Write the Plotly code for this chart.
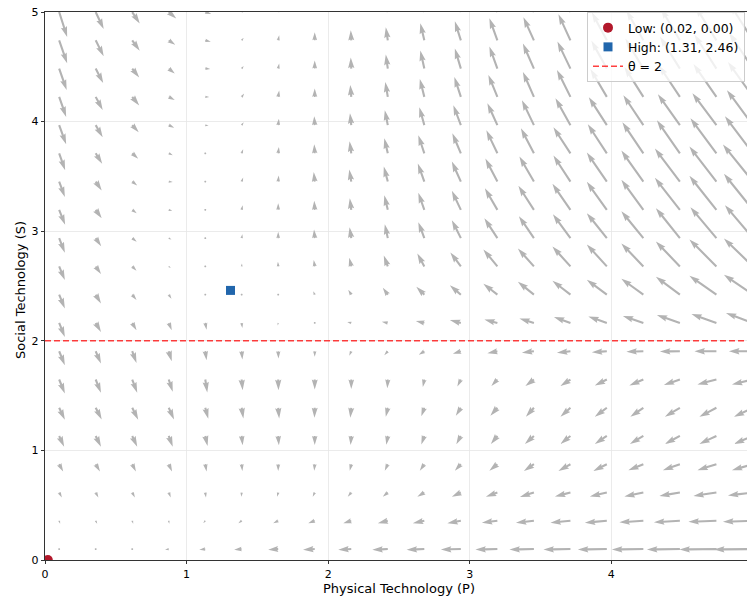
import math
import plotly.graph_objects as go

# ---------------- data ----------------
P_grid = [0.1, 0.358, 0.616, 0.874, 1.132, 1.389, 1.647, 1.905, 2.163, 2.421,
          2.679, 2.937, 3.195, 3.453, 3.711, 3.968, 4.226, 4.484, 4.742, 5.0]
S_grid = [0.1, 0.358, 0.616, 0.874, 1.132, 1.389, 1.647, 1.905, 2.163, 2.421,
          2.679, 2.937, 3.195, 3.453, 3.711, 3.968, 4.226, 4.484, 4.742, 5.0]

# dP/dt read from the field (rows follow S_grid, columns follow P_grid)
dP = [
    [0.05, 0.0, -0.1, -0.37, -0.6, -0.75, -1.0, -1.17, -1.3, -1.55, -1.77, -2.0, -2.2, -2.45, -2.7, -2.9, -3.15, -3.3, -3.7, -3.9],
    [0.1, 0.15, 0.1, 0.05, -0.2, -0.33, -0.5, -0.65, -0.8, -1.0, -1.15, -1.35, -1.55, -1.8, -2.0, -2.2, -2.4, -2.6, -2.8, -3.0],
    [0.27, 0.27, 0.27, 0.2, 0.07, -0.03, -0.1, -0.2, -0.35, -0.5, -0.7, -0.9, -1.15, -1.4, -1.55, -1.7, -1.9, -2.05, -2.3, -2.5],
    [0.4, 0.43, 0.37, 0.33, 0.13, 0.07, 0.0, -0.05, -0.15, -0.3, -0.45, -0.6, -0.8, -1.0, -1.2, -1.35, -1.5, -1.7, -1.9, -2.1],
    [0.5, 0.53, 0.5, 0.4, 0.23, 0.1, 0.07, 0.0, -0.07, -0.15, -0.3, -0.45, -0.65, -0.9, -1.0, -1.2, -1.35, -1.5, -1.7, -1.9],
    [0.57, 0.6, 0.6, 0.53, 0.3, 0.17, 0.1, -0.03, -0.1, -0.2, -0.3, -0.5, -0.7, -0.8, -1.0, -1.2, -1.3, -1.5, -1.7, -1.9],
    [0.57, 0.53, 0.5, 0.4, 0.2, 0.1, 0.03, 0.0, 0.0, -0.05, -0.15, -0.35, -0.6, -0.85, -1.0, -1.2, -1.4, -1.6, -1.9, -2.1],
    [0.57, 0.53, 0.43, 0.3, 0.13, 0.07, 0.03, 0.0, -0.2, -0.35, -0.55, -0.8, -1.0, -1.2, -1.35, -1.5, -1.7, -2.0, -2.2, -2.4],
    [0.57, 0.53, 0.43, 0.3, 0.13, 0.07, -0.05, -0.2, -0.4, -0.6, -0.85, -1.1, -1.3, -1.45, -1.65, -1.85, -2.05, -2.3, -2.5, -2.7],
    [0.57, 0.53, 0.43, 0.27, 0.03, 0.0, -0.05, -0.15, -0.3, -0.5, -0.8, -1.1, -1.4, -1.6, -1.8, -2.0, -2.2, -2.4, -2.7, -2.9],
    [0.57, 0.53, 0.43, 0.2, 0.05, 0.03, -0.03, -0.1, -0.2, -0.4, -0.7, -1.05, -1.4, -1.6, -1.8, -2.0, -2.2, -2.4, -2.7, -2.9],
    [0.57, 0.55, 0.45, 0.27, 0.07, 0.07, 0.0, -0.07, -0.17, -0.3, -0.6, -0.9, -1.3, -1.5, -1.75, -2.0, -2.2, -2.4, -2.6, -2.8],
    [0.6, 0.6, 0.45, 0.35, 0.15, 0.1, 0.0, -0.05, -0.15, -0.35, -0.6, -0.9, -1.25, -1.55, -1.8, -2.0, -2.2, -2.5, -2.7, -2.9],
    [0.57, 0.6, 0.5, 0.4, 0.17, 0.15, 0.05, -0.1, -0.2, -0.4, -0.65, -0.9, -1.2, -1.45, -1.7, -2.0, -2.2, -2.5, -2.7, -3.0],
    [0.6, 0.65, 0.6, 0.4, 0.2, 0.15, 0.07, -0.05, -0.17, -0.35, -0.6, -0.85, -1.1, -1.3, -1.7, -1.9, -2.1, -2.3, -2.6, -2.8],
    [0.7, 0.7, 0.65, 0.55, 0.33, 0.2, 0.07, -0.05, -0.13, -0.3, -0.5, -0.75, -1.0, -1.2, -1.5, -1.8, -2.0, -2.2, -2.4, -2.6],
    [0.7, 0.7, 0.7, 0.6, 0.4, 0.25, 0.1, 0.0, -0.1, -0.25, -0.45, -0.65, -0.9, -1.1, -1.35, -1.65, -1.9, -2.1, -2.3, -2.5],
    [0.75, 0.75, 0.7, 0.6, 0.5, 0.2, 0.1, 0.0, -0.05, -0.2, -0.4, -0.6, -0.8, -1.1, -1.3, -1.55, -1.8, -2.0, -2.2, -2.4],
    [0.8, 0.8, 0.75, 0.65, 0.55, 0.2, 0.1, 0.0, -0.05, -0.2, -0.4, -0.6, -0.8, -1.05, -1.2, -1.5, -1.7, -1.9, -2.1, -2.3],
    [0.8, 0.8, 0.75, 0.75, 0.6, 0.25, 0.1, 0.0, -0.05, -0.2, -0.4, -0.6, -0.8, -1.0, -1.2, -1.4, -1.7, -1.9, -2.1, -2.3],
]

# dS/dt read from the field
dS = [
    [-0.08, -0.08, -0.08, -0.08, -0.08, -0.08, -0.08, -0.08, -0.08, -0.08, -0.08, -0.05, -0.05, -0.05, -0.05, -0.05, -0.05, -0.05, -0.05, -0.05],
    [-0.3, -0.3, -0.3, -0.3, -0.25, -0.25, -0.25, -0.25, -0.25, -0.25, -0.25, -0.25, -0.2, -0.2, -0.2, -0.2, -0.15, -0.15, -0.1, -0.1],
    [-0.5, -0.5, -0.5, -0.5, -0.5, -0.43, -0.43, -0.43, -0.43, -0.43, -0.43, -0.43, -0.43, -0.45, -0.4, -0.4, -0.4, -0.35, -0.35, -0.3],
    [-0.73, -0.73, -0.73, -0.73, -0.73, -0.67, -0.67, -0.65, -0.65, -0.65, -0.65, -0.65, -0.65, -0.67, -0.67, -0.67, -0.6, -0.6, -0.6, -0.6],
    [-1.07, -1.07, -1.07, -1.07, -1.0, -0.93, -0.93, -0.9, -0.9, -0.87, -0.85, -0.83, -0.8, -0.8, -0.8, -0.8, -0.8, -0.8, -0.8, -0.8],
    [-1.2, -1.17, -1.2, -1.17, -1.1, -1.07, -1.07, -1.0, -1.0, -0.9, -0.85, -0.8, -0.8, -0.9, -0.9, -0.9, -0.9, -0.9, -0.9, -0.9],
    [-1.4, -1.33, -1.33, -1.23, -1.3, -1.07, -1.07, -1.0, -0.95, -0.87, -0.75, -0.7, -0.65, -0.65, -0.65, -0.6, -0.6, -0.55, -0.5, -0.5],
    [-1.4, -1.23, -1.17, -1.0, -0.9, -0.83, -0.73, -0.55, -0.45, -0.4, -0.35, -0.25, -0.2, -0.15, -0.15, -0.1, -0.05, -0.03, 0.0, 0.0],
    [-1.4, -0.9, -0.73, -0.73, -0.67, -0.5, -0.25, 0.05, 0.1, 0.13, 0.2, 0.3, 0.35, 0.45, 0.6, 0.65, 0.7, 0.8, 0.9, 1.0],
    [-1.37, -0.87, -0.53, -0.4, -0.07, -0.03, 0.15, 0.35, 0.5, 0.7, 0.8, 0.95, 1.1, 1.3, 1.4, 1.5, 1.6, 1.8, 1.9, 2.0],
    [-1.37, -0.77, -0.43, -0.17, -0.05, 0.3, 0.47, 0.65, 0.87, 1.1, 1.3, 1.4, 1.7, 1.8, 2.0, 2.2, 2.3, 2.5, 2.7, 2.8],
    [-1.45, -0.8, -0.35, -0.13, 0.0, 0.4, 0.63, 0.87, 1.1, 1.4, 1.6, 1.8, 2.0, 2.2, 2.4, 2.5, 2.7, 3.0, 3.1, 3.3],
    [-1.5, -0.85, -0.35, -0.1, 0.05, 0.45, 0.65, 0.9, 1.15, 1.45, 1.7, 1.9, 2.15, 2.4, 2.6, 2.8, 3.0, 3.2, 3.4, 3.6],
    [-1.55, -0.9, -0.4, -0.05, 0.05, 0.4, 0.6, 0.95, 1.2, 1.5, 1.8, 2.0, 2.3, 2.5, 2.6, 2.9, 3.1, 3.3, 3.5, 3.7],
    [-1.7, -1.05, -0.55, -0.2, -0.05, 0.4, 0.63, 0.9, 1.2, 1.5, 1.8, 2.0, 2.3, 2.5, 2.6, 2.9, 3.1, 3.3, 3.5, 3.7],
    [-1.9, -1.2, -0.7, -0.25, -0.05, 0.3, 0.65, 0.9, 1.2, 1.5, 1.8, 2.0, 2.2, 2.5, 2.7, 2.8, 3.0, 3.1, 3.2, 3.5],
    [-2.0, -1.3, -0.85, -0.3, 0.0, 0.33, 0.65, 0.85, 1.2, 1.5, 1.8, 2.0, 2.2, 2.5, 2.7, 2.8, 3.0, 3.15, 3.3, 3.5],
    [-2.15, -1.45, -0.9, -0.5, -0.05, 0.27, 0.5, 0.8, 1.1, 1.4, 1.8, 2.0, 2.2, 2.5, 2.7, 2.8, 3.0, 3.2, 3.4, 3.6],
    [-2.3, -1.6, -1.05, -0.45, -0.15, 0.25, 0.5, 0.8, 1.0, 1.3, 1.7, 1.9, 2.2, 2.3, 2.6, 2.8, 3.0, 3.2, 3.4, 3.6],
    [-2.5, -1.7, -1.15, -0.65, -0.2, 0.15, 0.55, 0.8, 1.0, 1.3, 1.6, 1.9, 2.2, 2.4, 2.6, 2.8, 3.0, 3.2, 3.4, 3.6],
]

LOW_P, LOW_S = 0.02, 0.00
HIGH_P, HIGH_S = 1.31, 2.46
THETA = 2
X_TICKS = [0, 1, 2, 3, 4]
Y_TICKS = [0, 1, 2, 3, 4, 5]

# ---------------- layout geometry ----------------
W, H = 747, 598
ML, MR, MT, MB = 45, 0, 12, 38
XR = [0, 4.958]
YR = [0, 5.0005]
kx = (W - ML - MR) / (XR[1] - XR[0])   # px per P unit
ky = (H - MT - MB) / (YR[1] - YR[0])   # px per S unit

QSCALE = 10.0      # px per unit of rate
SW = 2.1           # shaft width (px)
HEADW, HEADL, HEADAX = 3.0, 5.0, 4.5

ax_pts, ay_pts = [], []
for j, s in enumerate(S_grid):
    for i, p in enumerate(P_grid):
        u = dP[j][i] * QSCALE
        v = dS[j][i] * QSCALE
        Lpx = math.hypot(u, v)
        Lw = Lpx / SW
        if Lw < 1.0:
            pts = [(0.5 * math.cos(k * math.pi / 3), 0.5 * math.sin(k * math.pi / 3)) for k in range(7)]
            ang = 0.0
        else:
            ang = math.atan2(v, u)
            if Lw < HEADL:
                sh = Lw / HEADL
                base = [(0, 0.5), (HEADL - HEADAX, 0.5), (0, 0.5 * HEADW), (HEADL, 0),
                        (0, -0.5 * HEADW), (HEADL - HEADAX, -0.5), (0, -0.5), (0, 0.5)]
                pts = [(a * sh, b * sh) for a, b in base]
            else:
                pts = [(0, 0.5), (Lw - HEADAX, 0.5), (Lw - HEADL, 0.5 * HEADW), (Lw, 0),
                       (Lw - HEADL, -0.5 * HEADW), (Lw - HEADAX, -0.5), (0, -0.5), (0, 0.5)]
        ca, sa = math.cos(ang), math.sin(ang)
        for a, b in pts:
            pxx = (a * ca - b * sa) * SW
            pxy = (a * sa + b * ca) * SW
            ax_pts.append(p + pxx / kx)
            ay_pts.append(s + pxy / ky)
        ax_pts.append(None)
        ay_pts.append(None)

fig = go.Figure()

fig.add_trace(go.Scatter(
    x=ax_pts, y=ay_pts, mode="lines", fill="toself",
    fillcolor="#b3b3b3", line=dict(width=0, color="#b3b3b3"),
    hoverinfo="skip", showlegend=False,
))

fig.add_trace(go.Scatter(
    x=[LOW_P], y=[LOW_S], mode="markers",
    marker=dict(symbol="circle", size=10, color="#b2182b"),
    name=f"Low: ({LOW_P:.2f}, {LOW_S:.2f})",
))
fig.add_trace(go.Scatter(
    x=[HIGH_P], y=[HIGH_S], mode="markers",
    marker=dict(symbol="square", size=9, color="#2166ac"),
    name=f"High: ({HIGH_P:.2f}, {HIGH_S:.2f})",
))
fig.add_trace(go.Scatter(
    x=[XR[0], 5.0], y=[THETA, THETA], mode="lines",
    line=dict(color="rgba(255,0,0,0.75)", width=1.5, dash="6px,3px"),
    name=f"θ = {THETA}",
))

tick_font = dict(family="DejaVu Sans", size=11, color="black")
title_font = dict(family="DejaVu Sans", size=13, color="black")

fig.update_layout(
    width=W, height=H,
    margin=dict(l=ML, r=MR, t=MT, b=MB, pad=0, autoexpand=False),
    paper_bgcolor="white", plot_bgcolor="white",
    font=tick_font,
    showlegend=True,
    hovermode=False,
    legend=dict(
        x=(745 - 45) / 702, y=1.0, xanchor="right", yanchor="top",
        bgcolor="rgba(255,255,255,0.8)", bordercolor="#cccccc", borderwidth=1,
        font=dict(family="DejaVu Sans", size=12.5, color="black"),
        tracegroupgap=0, itemsizing="trace",
    ),
    xaxis=dict(
        range=XR, tickvals=X_TICKS, ticktext=[str(t) for t in X_TICKS],
        showline=True, linecolor="black", linewidth=0.8, mirror=True,
        ticks="outside", ticklen=3.5, tickwidth=0.8, tickcolor="black",
        showgrid=True, gridcolor="#e6e6e6", gridwidth=0.8, zeroline=False,
        tickfont=tick_font, automargin=False, ticklabeloverflow="allow",
    ),
    yaxis=dict(
        range=YR, tickvals=Y_TICKS, ticktext=[str(t) for t in Y_TICKS],
        showline=True, linecolor="black", linewidth=0.8, mirror=False,
        ticks="outside", ticklen=3.5, tickwidth=0.8, tickcolor="black",
        showgrid=True, gridcolor="#e6e6e6", gridwidth=0.8, zeroline=False,
        tickfont=tick_font, automargin=False, ticklabeloverflow="allow",
    ),
    annotations=[
        dict(text="Physical Technology (P)", x=2.5, xref="x", y=-(588 - 560) / 548, yref="paper",
             xanchor="center", yanchor="middle", showarrow=False, font=title_font),
        dict(text="Social Technology (S)", x=-(45 - 20) / 702, xref="paper",
             y=0.5 - (290 - 286) / 548, yref="paper", textangle=-90,
             xanchor="center", yanchor="middle", showarrow=False, font=title_font),
    ],
)

# remove the browser's default 8px body margin so the figure fills the window
fig.write_html(
    "out.html",
    config={"displayModeBar": False, "staticPlot": True},
    post_script="document.body.style.margin='0';document.body.style.overflow='hidden';",
)
